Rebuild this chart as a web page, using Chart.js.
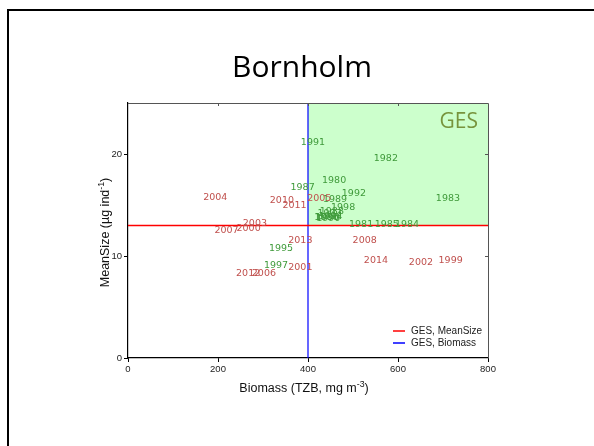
<!DOCTYPE html>
<html lang="en">
<head>
  <meta charset="UTF-8">
  <title>Bornholm</title>
  <script src="https://cdn.jsdelivr.net/npm/chart.js"></script>
  <style>
    body { margin: 0; background: #fff; }
    #wrap { width: 594px; height: 446px; }
  </style>
</head>
<body>
  <div id="wrap"><canvas id="chart" width="594" height="446"></canvas></div>

  <script>
    // years before 1999 (green) and from 1999 on (red)
    const greenYears = ['1980','1981','1982','1983','1984','1985','1986','1987','1988','1989','1990','1991','1992','1993','1994','1995','1996','1997','1998'];
    const greenBiomass = [458, 518, 573, 711, 620, 575, 441, 388, 453, 460, 445, 411, 502, 448, 450, 340, 443, 329, 478];
    const greenSize = [17.4, 13.1, 19.6, 15.6, 13.1, 13.1, 13.8, 16.7, 14.4, 15.5, 13.7, 21.1, 16.1, 14.2, 13.9, 10.75, 13.8, 9.1, 14.8];

    const redYears = ['1999','2000','2001','2002','2003','2004','2005','2006','2007','2008','2010','2011','2012','2013','2014'];
    const redBiomass = [717, 268, 383, 651, 282, 194, 425, 302, 219, 526, 342, 370, 267, 383, 551];
    const redSize = [9.55, 12.65, 8.85, 9.35, 13.2, 15.7, 15.65, 8.3, 12.45, 11.5, 15.4, 14.9, 8.3, 11.5, 9.55];

    const gesMeanSize = 13;
    const gesBiomass = 400;
    const xTicks = [0, 200, 400, 600, 800];
    const yTicks = [0, 10, 20];
    const xMax = 800;
    const yMax = 25;

    const toPoints = (xs, ys) => xs.map((x, i) => ({ x: x, y: ys[i] }));

    const gesArea = {
      id: 'gesArea',
      beforeDatasetsDraw(chart) {
        const { ctx, scales: { x, y } } = chart;
        const x0 = x.getPixelForValue(gesBiomass), x1 = x.getPixelForValue(xMax);
        const y0 = y.getPixelForValue(yMax), y1 = y.getPixelForValue(gesMeanSize);
        ctx.save();
        ctx.fillStyle = '#ccffcc';
        ctx.fillRect(x0, y0, x1 - x0, y1 - y0);
        ctx.restore();
      }
    };

    const yearLabels = {
      id: 'yearLabels',
      afterDatasetsDraw(chart) {
        const ctx = chart.ctx;
        ctx.save();
        ctx.font = '9.5px "DejaVu Sans"';
        ctx.textAlign = 'center';
        ctx.textBaseline = 'middle';
        chart.data.datasets.forEach((ds, i) => {
          if (!ds.years) return;
          ctx.fillStyle = ds.textColor;
          chart.getDatasetMeta(i).data.forEach((pt, j) => {
            ctx.fillText(ds.years[j], pt.x, pt.y);
          });
        });
        ctx.restore();
      }
    };

    function supText(ctx, base, sup, tail, x, y, size) {
      ctx.font = size + 'px "Liberation Sans"';
      const w1 = ctx.measureText(base).width;
      const w3 = ctx.measureText(tail).width;
      ctx.font = (size * 0.7) + 'px "Liberation Sans"';
      const w2 = ctx.measureText(sup).width;
      let sx = x - (w1 + w2 + w3) / 2;
      ctx.textAlign = 'left';
      ctx.textBaseline = 'middle';
      ctx.font = size + 'px "Liberation Sans"';
      ctx.fillText(base, sx, y);
      ctx.font = (size * 0.7) + 'px "Liberation Sans"';
      ctx.fillText(sup, sx + w1, y - size * 0.35);
      ctx.font = size + 'px "Liberation Sans"';
      ctx.fillText(tail, sx + w1 + w2, y);
    }

    const frame = {
      id: 'frame',
      afterDraw(chart) {
        const { ctx, chartArea: a, scales: { x, y } } = chart;
        ctx.save();
        // top & right border with inner ticks
        ctx.strokeStyle = '#555';
        ctx.lineWidth = 1;
        ctx.beginPath();
        ctx.moveTo(a.left, a.top + 0.5);
        ctx.lineTo(a.right + 0.5, a.top + 0.5);
        ctx.lineTo(a.right + 0.5, a.bottom);
        xTicks.slice(1, -1).forEach(v => {
          const px = Math.round(x.getPixelForValue(v)) + 0.5;
          ctx.moveTo(px, a.top); ctx.lineTo(px, a.top + 3);
        });
        yTicks.slice(1).forEach(v => {
          const py = Math.round(y.getPixelForValue(v)) + 0.5;
          ctx.moveTo(a.right, py); ctx.lineTo(a.right - 3, py);
        });
        ctx.stroke();

        // outer slide frame
        ctx.fillStyle = '#000';
        ctx.fillRect(7, 9, 2, 437);
        ctx.fillRect(7, 9, 587, 2);

        // title
        ctx.font = '30px "Open Sans"';
        ctx.textAlign = 'center';
        ctx.textBaseline = 'middle';
        ctx.fillText('Bornholm', 302, 68);

        // GES label
        ctx.fillStyle = '#77933c';
        ctx.font = '21px "Open Sans"';
        ctx.textAlign = 'right';
        ctx.fillText('GES', a.right - 10, a.top + 19);

        // axis titles
        ctx.fillStyle = '#111';
        supText(ctx, 'Biomass (TZB, mg m', '-3', ')', (a.left + a.right) / 2 - 4, 389, 12.5);
        ctx.save();
        ctx.translate(106, (a.top + a.bottom) / 2 + 2);
        ctx.rotate(-Math.PI / 2);
        supText(ctx, 'MeanSize (\u00b5g ind', '-1', ')', 0, 0, 12.5);
        ctx.restore();

        // legend
        const lines = chart.data.datasets.filter(d => d.legendEntry);
        ctx.font = '10px "Liberation Sans"';
        ctx.textAlign = 'left';
        ctx.textBaseline = 'middle';
        lines.forEach((d, k) => {
          const ly = 331 + k * 12;
          ctx.strokeStyle = d.borderColor;
          ctx.lineWidth = 1.5;
          ctx.beginPath();
          ctx.moveTo(393, ly); ctx.lineTo(405, ly);
          ctx.stroke();
          ctx.fillStyle = '#222';
          ctx.fillText(d.label, 411, ly);
        });
        ctx.restore();
      }
    };

    new Chart(document.getElementById('chart').getContext('2d'), {
      type: 'scatter',
      data: {
        datasets: [
          {
            label: 'GES, MeanSize',
            type: 'line',
            data: [{ x: 0, y: gesMeanSize }, { x: xMax, y: gesMeanSize }],
            borderColor: '#ff0000',
            borderWidth: 1.5,
            pointRadius: 0,
            legendEntry: true
          },
          {
            label: 'GES, Biomass',
            type: 'line',
            data: [{ x: gesBiomass, y: 0 }, { x: gesBiomass, y: yMax }],
            borderColor: '#0000ff',
            borderWidth: 1.2,
            pointRadius: 0,
            legendEntry: true
          },
          {
            label: 'before 1999',
            data: toPoints(greenBiomass, greenSize),
            years: greenYears,
            textColor: '#3f9a3a',
            pointRadius: 0
          },
          {
            label: '1999 onwards',
            data: toPoints(redBiomass, redSize),
            years: redYears,
            textColor: '#c0504d',
            pointRadius: 0
          }
        ]
      },
      options: {
        responsive: false,
        animation: false,
        layout: { padding: { left: 96, right: 106, top: 103, bottom: 68 } },
        plugins: {
          legend: { display: false },
          tooltip: { enabled: false }
        },
        scales: {
          x: {
            type: 'linear',
            min: 0,
            max: xMax,
            afterBuildTicks: s => { s.ticks = xTicks.map(v => ({ value: v })); },
            afterFit: s => { s.height = 20; },
            grid: { drawOnChartArea: false, color: '#000', tickLength: 4 },
            border: { color: '#000', width: 1.2 },
            ticks: { color: '#222', font: { family: 'Liberation Sans', size: 9.5 }, padding: 2, maxRotation: 0 }
          },
          y: {
            min: 0,
            max: yMax,
            afterBuildTicks: s => { s.ticks = yTicks.map(v => ({ value: v })); },
            afterFit: s => { s.width = 32; },
            grid: { drawOnChartArea: false, color: '#000', tickLength: 4 },
            border: { color: '#000', width: 1.2 },
            ticks: { color: '#222', font: { family: 'Liberation Sans', size: 9.5 }, padding: 2 }
          }
        }
      },
      plugins: [gesArea, yearLabels, frame]
    });
  </script>
</body>
</html>
